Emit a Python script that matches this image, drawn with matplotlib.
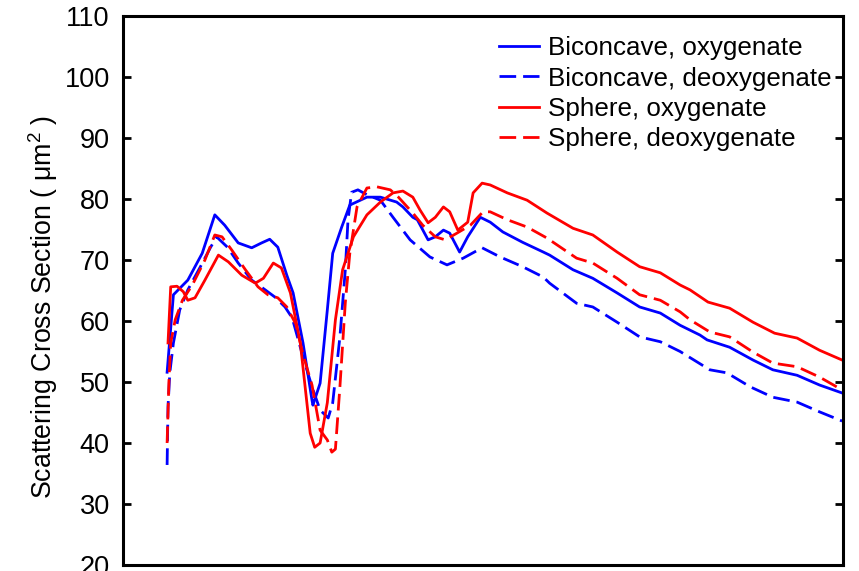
import numpy as np
import matplotlib
matplotlib.use("Agg")
import matplotlib.pyplot as plt

plt.rcParams['font.family'] = ['Liberation Sans', 'DejaVu Sans']
plt.rcParams['mathtext.fontset'] = 'custom'
plt.rcParams['mathtext.rm'] = 'Liberation Sans'

# wavelength (nm) and scattering cross section (um^2)
x_bo = [249, 256, 272, 288, 302, 313, 328, 343, 354, 363, 372, 382, 389, 400, 410, 411,
        419, 427, 433, 443, 452, 471, 486, 504, 511, 522, 527, 539, 547, 556, 563, 574,
        583, 597, 608, 622, 644, 667, 674, 700, 722, 749, 774, 797, 819, 841, 849, 874,
        900, 922, 949, 974, 999]
y_bo = [51.6, 64.3, 66.7, 71.1, 77.4, 75.7, 72.8, 72.0, 72.8, 73.4, 72.1, 67.5, 64.6, 56.4, 47.0, 46.2,
        49.8, 61.8, 71.1, 75.4, 79.0, 80.3, 80.3, 79.5, 78.7, 77.0, 76.6, 73.3, 73.8, 74.9, 74.4, 71.3,
        73.8, 77.0, 76.2, 74.6, 72.9, 71.3, 70.8, 68.4, 67.0, 64.6, 62.3, 61.3, 59.3, 57.7, 56.9, 55.7,
        53.6, 52.0, 51.1, 49.5, 48.2]

x_bd = [249, 250, 252, 256, 263, 272, 286, 297, 304, 316, 328, 343, 358, 369, 380, 388,
        400, 410, 419, 428, 433, 441, 447, 450, 454, 461, 471, 486, 500, 519, 541, 560,
        578, 599, 619, 644, 667, 674, 704, 722, 749, 774, 797, 819, 852, 871, 897, 922,
        949, 974, 999]
y_bd = [36.4, 45.9, 51.5, 56.4, 61.8, 65.1, 68.9, 72.0, 73.8, 72.1, 69.5, 66.7, 65.1, 63.9, 62.3, 60.5,
        54.1, 49.2, 45.4, 44.1, 46.6, 57.4, 68.4, 76.6, 81.1, 81.5, 80.7, 79.8, 77.0, 73.3, 70.5, 69.2,
        70.3, 72.0, 70.5, 68.9, 67.2, 66.2, 62.9, 62.3, 59.8, 57.4, 56.6, 55.0, 52.0, 51.5, 49.2, 47.5,
        46.7, 45.1, 43.6]

x_so = [250, 253, 260, 267, 272, 280, 291, 306, 317, 332, 347, 356, 367, 376, 386, 397,
        408, 413, 419, 427, 436, 444, 456, 471, 486, 500, 511, 522, 530, 539, 547, 556,
        563, 572, 583, 589, 599, 608, 627, 649, 671, 700, 722, 749, 774, 797, 819, 830,
        850, 874, 900, 924, 949, 974, 999]
y_so = [56.4, 65.6, 65.7, 64.8, 63.4, 63.8, 66.7, 70.8, 69.7, 67.5, 66.2, 67.0, 69.5, 68.7, 64.6, 56.4,
        41.6, 39.3, 40.0, 46.6, 60.2, 68.4, 73.8, 77.4, 79.5, 81.0, 81.3, 80.3, 78.2, 76.1, 77.0, 78.7,
        77.9, 74.9, 76.2, 81.0, 82.6, 82.3, 81.0, 79.8, 77.7, 75.2, 74.1, 71.3, 68.9, 67.9, 65.9, 65.1,
        63.1, 62.1, 59.8, 58.0, 57.2, 55.2, 53.6]

x_sd = [249, 251, 253, 258, 266, 277, 291, 302, 310, 321, 336, 350, 361, 372, 382, 392,
        400, 410, 419, 427, 432, 436, 441, 447, 452, 460, 471, 482, 497, 506, 522, 533,
        547, 558, 571, 586, 600, 608, 627, 649, 671, 704, 722, 749, 774, 797, 819, 830,
        852, 874, 900, 922, 949, 974, 999]
y_sd = [40.0, 50.0, 56.4, 60.2, 63.4, 65.9, 70.0, 74.1, 73.8, 71.6, 68.4, 65.6, 64.3, 63.8, 62.3, 59.5,
        54.5, 49.5, 42.1, 40.5, 38.5, 39.0, 49.2, 63.0, 71.1, 78.7, 81.8, 82.0, 81.5, 80.3, 77.7, 75.7,
        73.8, 73.3, 74.4, 75.7, 77.9, 77.9, 76.6, 75.4, 73.6, 70.3, 69.5, 67.0, 64.3, 63.4, 61.5, 60.2,
        58.2, 57.4, 54.9, 53.1, 52.5, 50.8, 48.7]

labels = ["Biconcave, oxygenate", "Biconcave, deoxygenate",
          "Sphere, oxygenate", "Sphere, deoxygenate"]
yticks = np.arange(20, 111, 10)

fig = plt.figure(figsize=(8.59, 5.71), dpi=100)
ax = fig.add_axes([0.1432, 0.0105, 0.8382, 0.9615])

dash = (0, (6, 2.5))
ax.plot(x_bo, y_bo, color='b', lw=2, label=labels[0])
ax.plot(x_bd, y_bd, color='b', lw=2, ls=dash, label=labels[1])
ax.plot(x_so, y_so, color='r', lw=2, label=labels[2])
ax.plot(x_sd, y_sd, color='r', lw=2, ls=dash, label=labels[3])

ax.set_xlim(200, 1000)
ax.set_ylim(20, 110)
ax.set_xticks([])
ax.set_yticks(yticks)
ax.tick_params(axis='y', direction='in', length=6, width=2, labelsize=19.5,
               right=True, pad=9.5)
for s in ax.spines.values():
    s.set_linewidth(2.2)

ax.set_ylabel('Scattering Cross Section ( μm$^2$ )', fontsize=19.3)
ax.yaxis.set_label_coords(-0.088, 0.47)

ax.legend(loc='upper left', bbox_to_anchor=(0.522, 0.963), frameon=False,
          fontsize=18.7, handlelength=1.55, handletextpad=0.35,
          labelspacing=0.24, borderpad=0.0, borderaxespad=0.0)

fig.savefig('out.png', dpi=100)
